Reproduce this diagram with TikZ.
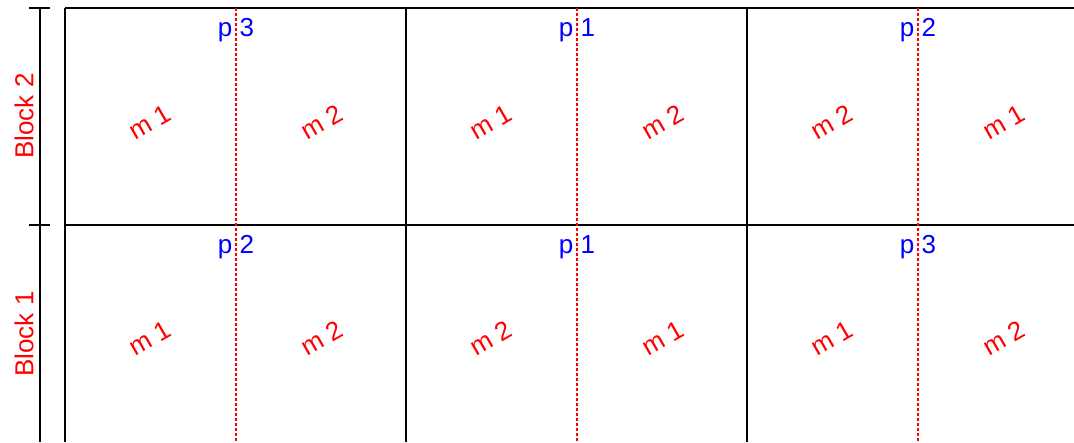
\documentclass[tikz,border=0pt]{standalone}
\usepackage{fontspec}
\setmainfont{Liberation Sans}
\usetikzlibrary{positioning}
\begin{document}
\begin{tikzpicture}[x=1pt, y=-1pt,
  frame/.style={line width=1.6pt, black},
  split/.style={red, line width=1.4pt, dash pattern=on 3pt off 2pt},
  plabel/.style={blue, inner sep=0pt, font=\fontsize{26}{28}\selectfont},
  mlabel/.style={red, inner sep=0pt, rotate=30, font=\fontsize{26}{28}\selectfont},
  blabel/.style={red, inner sep=0pt, rotate=90, font=\fontsize{26}{28}\selectfont},
]
\useasboundingbox (0,0) rectangle (1074,442);

% === Block axis ===
\coordinate (axtop) at (40,8);
\coordinate (axbot) at (40,442);
\draw[frame] (axtop) -- (axbot);
\draw[frame] (29,8) -- (50,8);
\draw[frame] (29,225) -- (50,225);
\node[blabel] (b2) at (24,116) {Block 2};
\node[blabel] (b1) at (24,334) {Block 1};

% === Plot grid ===
\draw[frame] (65,8) -- (1074,8);
\draw[frame] (65,225) -- (1074,225);
\foreach \x in {65,406,747}
  \draw[frame] (\x,8) -- (\x,442);

% === Split lines ===
\foreach \x in {236,577,918}
  \draw[split] (\x,8) -- (\x,442);

% === Block 2 ===
\node[plabel] (p3a) at (236,30) {p 3};
\node[plabel] (p1a) at (577,30) {p 1};
\node[plabel] (p2a) at (918,30) {p 2};
\node[mlabel] (m1a) at (150,122) {m 1};
\node[mlabel] (m2a) at (322,122) {m 2};
\node[mlabel] (m1b) at (491,122) {m 1};
\node[mlabel] (m2b) at (663,122) {m 2};
\node[mlabel] (m2c) at (832,122) {m 2};
\node[mlabel] (m1c) at (1004,122) {m 1};

% === Block 1 ===
\node[plabel] (p2b) at (236,247) {p 2};
\node[plabel] (p1b) at (577,247) {p 1};
\node[plabel] (p3b) at (918,247) {p 3};
\node[mlabel] (m1d) at (150,338) {m 1};
\node[mlabel] (m2d) at (322,338) {m 2};
\node[mlabel] (m2e) at (491,338) {m 2};
\node[mlabel] (m1e) at (663,338) {m 1};
\node[mlabel] (m1f) at (832,338) {m 1};
\node[mlabel] (m2f) at (1004,338) {m 2};

\end{tikzpicture}
\end{document}
